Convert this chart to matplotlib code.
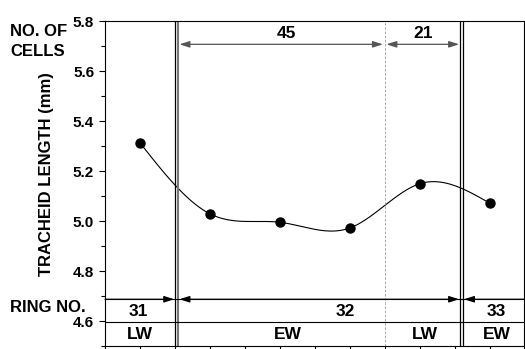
import numpy as np
import matplotlib.pyplot as plt
from matplotlib.ticker import MultipleLocator

# data
pos = [1, 3, 5, 7, 9, 11]
length_mm = [5.313, 5.029, 4.995, 4.972, 5.149, 5.072]
cell_counts = ["45", "21"]
rings = ["31", "32", "33"]
wood = ["LW", "EW", "LW", "EW"]


def natural_spline(x, y, n=300):
    x = np.asarray(x, float)
    y = np.asarray(y, float)
    m = len(x)
    h = np.diff(x)
    A = np.zeros((m, m))
    r = np.zeros(m)
    A[0, 0] = A[-1, -1] = 1
    for i in range(1, m - 1):
        A[i, i - 1] = h[i - 1]
        A[i, i] = 2 * (h[i - 1] + h[i])
        A[i, i + 1] = h[i]
        r[i] = 6 * ((y[i + 1] - y[i]) / h[i] - (y[i] - y[i - 1]) / h[i - 1])
    M = np.linalg.solve(A, r)
    xs = np.linspace(x[0], x[-1], n)
    k = np.clip(np.searchsorted(x, xs) - 1, 0, m - 2)
    t0 = x[k + 1] - xs
    t1 = xs - x[k]
    hk = h[k]
    ys = (M[k] * t0**3 + M[k + 1] * t1**3) / (6 * hk) \
        + (y[k] / hk - M[k] * hk / 6) * t0 + (y[k + 1] / hk - M[k + 1] * hk / 6) * t1
    return xs, ys


plt.rcParams["font.family"] = "Liberation Sans"
plt.rcParams["font.weight"] = "bold"
plt.rcParams["axes.labelweight"] = "bold"
plt.rcParams["font.size"] = 12
bold = dict(fontweight="bold")
inner = dict(fontweight="bold", fontsize=12.5)

fig = plt.figure(figsize=(5.25, 3.49), dpi=100)
ax = fig.add_axes([0.2, 0.0086, 0.799, 0.931])
ax.set_xlim(0, 12)
ax.set_ylim(4.5, 5.8)

xs, ys = natural_spline(pos, length_mm)
ax.plot(xs, ys, color="black", lw=0.8)
ax.plot(pos, length_mm, "o", color="black", ms=6.5)

# ring boundaries
ax.axvline(2.0, color="black", lw=0.9)
ax.axvline(2.1, color="#777777", lw=1.5)
ax.axvline(10.15, color="black", lw=0.9)
ax.axvline(10.25, color="black", lw=0.9)
ax.axvline(8.0, color="#999999", lw=0.6, ls=(0, (3, 2)))

ax.axhline(4.687, color="black", lw=0.8)
ax.axhline(4.595, color="black", lw=0.8)


def arrow(x0, x1, y, style, color="black"):
    ax.annotate("", xy=(x1, y), xytext=(x0, y),
                arrowprops=dict(arrowstyle=style + ",head_length=0.5,head_width=0.16",
                                color=color, lw=0.9, shrinkA=0, shrinkB=0))


# cell count arrows
arrow(2.13, 7.95, 5.707, "<|-|>", "#555555")
arrow(8.05, 10.13, 5.707, "<|-|>", "#555555")
ax.text(5.2, 5.72, cell_counts[0], ha="center", va="bottom", **inner)
ax.text(9.1, 5.72, cell_counts[1], ha="center", va="bottom", **inner)

# ring arrows
arrow(0, 1.98, 4.687, "-|>")
arrow(2.13, 10.13, 4.687, "<|-|>")
arrow(12, 10.27, 4.687, "-|>")
ax.text(0.95, 4.638, rings[0], ha="center", va="center", **inner)
ax.text(6.87, 4.638, rings[1], ha="center", va="center", **inner)
ax.text(11.19, 4.638, rings[2], ha="center", va="center", **inner)

for xw, lab in zip([1.0, 5.23, 9.16, 11.2], wood):
    ax.text(xw, 4.545, lab, ha="center", va="center", **inner)

ax.yaxis.set_minor_locator(MultipleLocator(0.1))
ax.xaxis.set_major_locator(MultipleLocator(1))
ax.set_yticks([4.6, 4.8, 5.0, 5.2, 5.4, 5.6, 5.8])
ax.set_yticklabels(["4.6", "4.8", "5.0", "5.2", "5.4", "5.6", "5.8"], fontsize=11, **bold)
ax.set_xticklabels([])
ax.tick_params(direction="out", length=4.3, width=0.8, pad=3.5)
ax.tick_params(which="minor", direction="out", length=3, width=0.8)
for s in ax.spines.values():
    s.set_linewidth(0.8)

ax.set_ylabel("TRACHEID LENGTH (mm)", fontsize=12, **bold)
ax.yaxis.set_label_coords(-0.122, 0.53)
fig.text(10 / 525, 1 - 24 / 349, "NO. OF\nCELLS", ha="left", va="top", linespacing=1.4, **bold)
fig.text(10 / 525, 1 - 300 / 349, "RING NO.", ha="left", va="top", **bold)

fig.savefig("out.png", dpi=100)
